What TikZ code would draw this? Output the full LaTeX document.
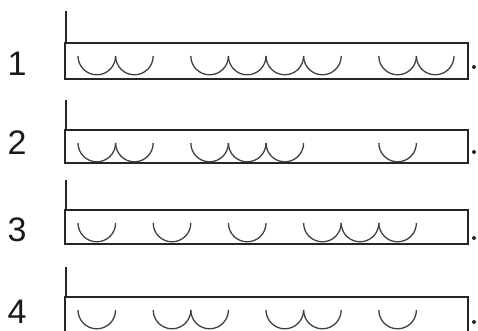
\documentclass[tikz,border=0pt]{standalone}
\usepackage{fontspec}
\setmainfont{Liberation Sans}
\begin{document}
\begin{tikzpicture}[x=1pt,y=-1pt,
  frame/.style={draw=black!85,line width=1.3pt},
  beat/.style={draw=black!75,line width=1.3pt},
  numlbl/.style={inner sep=0pt,font=\fontsize{34}{34}\selectfont,text=black!90},
  enddot/.style={fill=black!85,draw=none}]
\useasboundingbox (0,0) rectangle (478,331);
\def\sw{37.6}
\def\sx{78}
% rows: label / label y / vline top / rect top / rect bottom / dot y / slots
\foreach \lab/\ly/\vt/\rt/\rb/\dy/\slots in {
  1/64/11/43/79/67/{0,1,3,4,5,6,8,9},
  2/143/100/130/163/152/{0,1,3,4,5,8},
  3/230/180/210/244/238/{0,2,4,6,7,8},
  4/312/267/297/333/322/{0,2,3,5,6,8}}{
  \node[numlbl] (n\lab) at (17,\ly) {\lab};
  \draw[frame] (65,\rt) rectangle (468,\rb);
  \draw[frame] (66,\vt) -- (66,\rt);
  \foreach \s in \slots {
    \draw[beat] ({\sx+\s*\sw},\rt+13) arc[start angle=180,end angle=0,radius=\sw/2];
  }
  \fill[enddot] (474,\dy) circle (2);
}
\end{tikzpicture}
\end{document}
